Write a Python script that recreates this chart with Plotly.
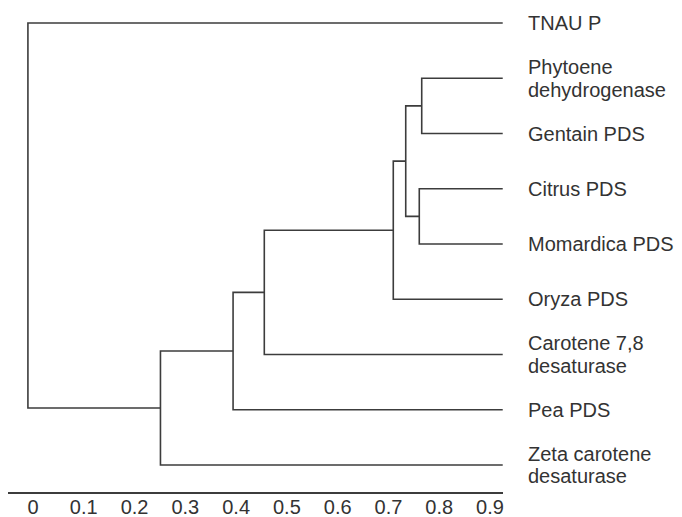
import plotly.graph_objects as go

# ---------------- data ----------------
leaf_names = [
    "TNAU P",
    "Phytoene<br>dehydrogenase",
    "Gentain PDS",
    "Citrus PDS",
    "Momardica PDS",
    "Oryza PDS",
    "Carotene 7,8<br>desaturase",
    "Pea PDS",
    "Zeta carotene<br>desaturase",
]
leaf_height = 0.925  # distance value at which leaves sit

# merges: (child_a, child_b, height); children are leaf names or node ids "n#"
merge_a = ["Phytoene<br>dehydrogenase", "Citrus PDS", "n0", "n2", "n3", "n4", "n5", "TNAU P"]
merge_b = ["Gentain PDS", "Momardica PDS", "n1", "Oryza PDS", "Carotene 7,8<br>desaturase",
           "Pea PDS", "Zeta carotene<br>desaturase", "n6"]
merge_h = [0.7655, 0.7607, 0.734, 0.7095, 0.4555, 0.394, 0.251, -0.01]

tick_vals = [0, 0.1, 0.2, 0.3, 0.4, 0.5, 0.6, 0.7, 0.8, 0.9]
tick_text = ["0", "0.1", "0.2", "0.3", "0.4", "0.5", "0.6", "0.7", "0.8", "0.9"]

# ---------------- layout constants (figure pixels; page has an 8px body margin) ----------------
W, H = 674, 509
px_zero = 25.0        # pixel x of value 0
px_per_unit = 507.8
ax_left_px, ax_right_px = 0.0, 495.0
axis_y_px = 484.0
leaf0_px, leaf_step_px = 15.0, 55.25
label_left_px = 518.0
line_gap_px = 22.5     # spacing between lines of two-line labels

line_col = "#3c3c3c"
text_col = "#333333"
font_family = "Liberation Sans, Arial, sans-serif"

# ---------------- build dendrogram links ----------------
pos = {name: (leaf_height, i) for i, name in enumerate(leaf_names)}
xs, ys = [], []
for k, (a, b, h) in enumerate(zip(merge_a, merge_b, merge_h)):
    xa, ya = pos[a]
    xb, yb = pos[b]
    xs += [xa, h, h, xb, None]
    ys += [ya, ya, yb, yb, None]
    pos[f"n{k}"] = (h, (ya + yb) / 2.0)

fig = go.Figure()
fig.add_trace(go.Scatter(x=xs, y=ys, mode="lines",
                         line=dict(color=line_col, width=1.6),
                         hoverinfo="skip", showlegend=False))

gap_units = line_gap_px / leaf_step_px
for i, name in enumerate(leaf_names):
    parts = name.split("<br>")
    n = len(parts)
    for j, part in enumerate(parts):
        fig.add_annotation(x=label_left_px / W, xref="paper", xanchor="left",
                           y=i + (j - (n - 1) / 2.0) * gap_units, yref="y", yanchor="middle",
                           text=part, showarrow=False, align="left",
                           font=dict(size=20, color=text_col, family=font_family))

x0 = (ax_left_px - px_zero) / px_per_unit
x1 = (ax_right_px - px_zero) / px_per_unit
y_top = -leaf0_px / leaf_step_px
y_bot = (axis_y_px - leaf0_px) / leaf_step_px

fig.update_layout(
    width=W, height=H,
    margin=dict(l=0, r=0, t=0, b=H - axis_y_px, pad=0),
    paper_bgcolor="white", plot_bgcolor="white",
    font=dict(family=font_family, color=text_col),
    xaxis=dict(domain=[ax_left_px / W, ax_right_px / W], range=[x0, x1],
               showline=True, linecolor=line_col, linewidth=1.5,
               tickvals=tick_vals, ticktext=tick_text, ticks="",
               ticklabelstandoff=-4,
               showgrid=False, zeroline=False,
               tickfont=dict(size=20, color=text_col, family=font_family)),
    yaxis=dict(range=[y_bot, y_top], visible=False, domain=[0, 1]),
)

fig.write_html("out.html")
